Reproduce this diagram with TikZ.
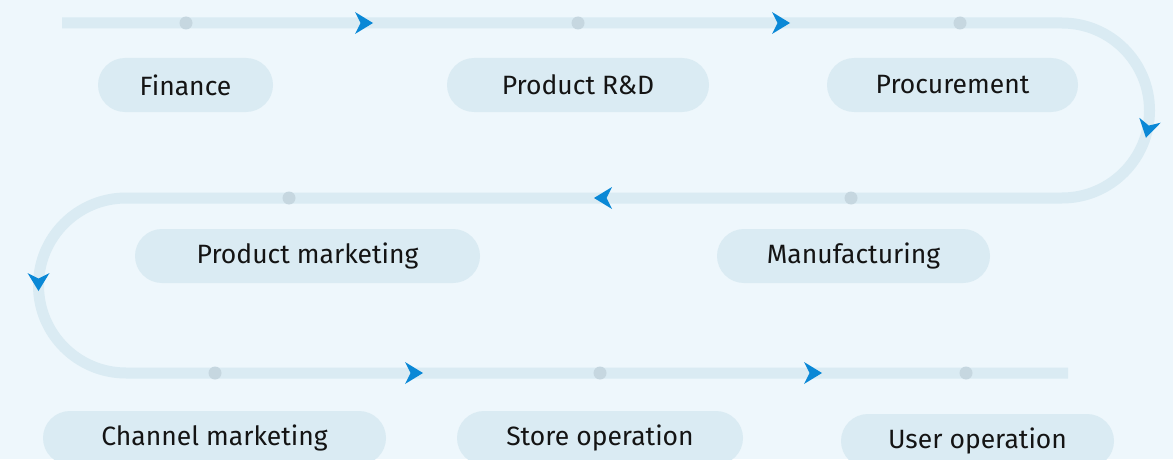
\documentclass[tikz,border=0pt]{standalone}
\usepackage{fontspec}
\setmainfont{Fira Sans}
\definecolor{bgc}{HTML}{EEF7FC}
\definecolor{trackc}{HTML}{DAEBF3}
\definecolor{dotc}{HTML}{C6D7E0}
\definecolor{arrowc}{HTML}{0A88D6}
\definecolor{textc}{HTML}{141414}
\tikzset{
  pill/.style={fill=trackc, rounded corners=27pt, minimum height=54pt, inner sep=0pt,
    text=textc, font=\fontsize{26.5}{30}\selectfont},
  track/.style={draw=trackc, line width=11pt},
  dotmark/.style={fill=dotc},
  arrowmark/.pic={\fill[arrowc] (9,0) -- (-9,-11) -- (-3.5,0) -- (-9,11) -- cycle;}
}
\begin{document}
\begin{tikzpicture}[x=1pt,y=1pt]
\fill[bgc] (0,0) rectangle (1173,459);
\useasboundingbox (0,0) rectangle (1173,459);
\clip (0,0) rectangle (1173,459);
% track
\coordinate (start) at (62,436);
\coordinate (tr) at (1062,436);
\coordinate (ml) at (126,261);
\coordinate (fin) at (1068,86);
\draw[track] (start) -- (tr) arc[start angle=90, end angle=-90, radius=87.5] -- (ml) arc[start angle=90, end angle=270, radius=87.5] -- (fin);
% dots
\foreach \x/\y in {186/436, 578/436, 960/436, 289/261, 851/261, 215/86, 600/86, 966/86}
  \fill[dotmark] (\x,\y) circle (6.5);
% arrows
\pic at (364,436) {arrowmark};
\pic at (781,436) {arrowmark};
\pic[rotate=-103] at (1148,330) {arrowmark};
\pic[rotate=180] at (603,261) {arrowmark};
\pic[rotate=-90] at (38.5,177) {arrowmark};
\pic at (414,86) {arrowmark};
\pic at (813,86) {arrowmark};
% pills
\node[pill, minimum width=175pt] (finance) at (185.5,374) {Finance};
\node[pill, minimum width=262pt] (rd) at (578,374) {Product R\&D};
\node[pill, minimum width=251pt] (proc) at (952.5,374) {Procurement};
\node[pill, minimum width=345pt] (pmkt) at (307.5,203) {Product marketing};
\node[pill, minimum width=273pt] (manu) at (853.5,203) {Manufacturing};
\node[pill, minimum width=343pt] (cmkt) at (214.5,21) {Channel marketing};
\node[pill, minimum width=286pt] (store) at (600,21) {Store operation};
\node[pill, minimum width=273pt] (user) at (977.5,18) {User operation};
\end{tikzpicture}
\end{document}
